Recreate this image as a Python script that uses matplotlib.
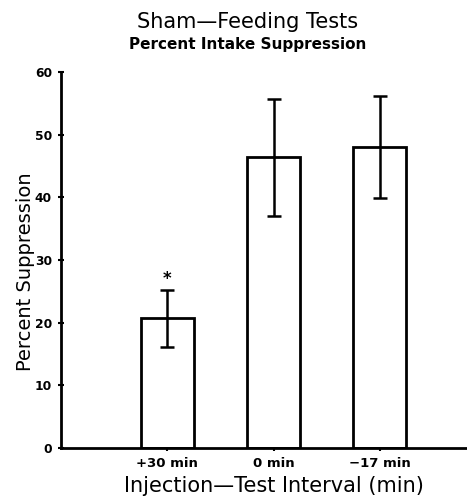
import matplotlib
matplotlib.use("Agg")
import matplotlib.pyplot as plt

categories = ["+30 min", "0 min", "\u221217 min"]
means = [20.7, 46.5, 48.0]
err_upper = [25.2, 55.7, 56.1]
err_lower = [16.1, 37.1, 39.9]
yticks = [0, 10, 20, 30, 40, 50, 60]

plt.rcParams['font.family'] = ['DejaVu Sans']

fig = plt.figure(figsize=(4.67, 4.99), dpi=100)
ax = fig.add_axes([61/467, 51/499, 1 - 61/467, (448-72)/499])

x = [1, 2, 3]
yerr = [[m - lo for m, lo in zip(means, err_lower)],
        [hi - m for m, hi in zip(means, err_upper)]]
ax.bar(x, means, width=0.5, facecolor='white', edgecolor='black', linewidth=2, zorder=2)
ax.errorbar(x, means, yerr=yerr, fmt='none', ecolor='black', elinewidth=1.8,
            capsize=5, capthick=1.8, zorder=3)
ax.text(1, 27.0, "*", ha='center', va='center', fontsize=12, fontweight='bold')

ax.set_xlim(0, 3.82)
ax.set_ylim(0, 60)
ax.set_yticks(yticks)
ax.set_yticklabels([str(t) for t in yticks], fontsize=8.8, fontweight='bold')
ax.set_xticks(x)
ax.set_xticklabels(categories, fontsize=9.5, fontweight='bold')
ax.tick_params(axis='both', direction='inout', length=5, width=1.5, pad=4)
for s in ['top', 'right']:
    ax.spines[s].set_visible(False)
for s in ['left', 'bottom']:
    ax.spines[s].set_linewidth(2)

ax.set_ylabel("Percent Suppression", fontsize=14)
ax.yaxis.set_label_coords(-(61 - 35) / 406, (448 - 272) / 376)
ax.set_xlabel("Injection\u2014Test Interval (min)", fontsize=15)
ax.xaxis.set_label_coords((274 - 61) / 406, -(499 - 448 - 50 + 27) / 376 - 0.0)

fig.text(248/467, 1 - 22/499, "Sham\u2014Feeding Tests", ha='center', va='center', fontsize=15)
fig.text(248/467, 1 - 45/499, "Percent Intake Suppression", ha='center', va='center',
         fontsize=11, fontweight='bold')

fig.savefig("out.png", dpi=100)
